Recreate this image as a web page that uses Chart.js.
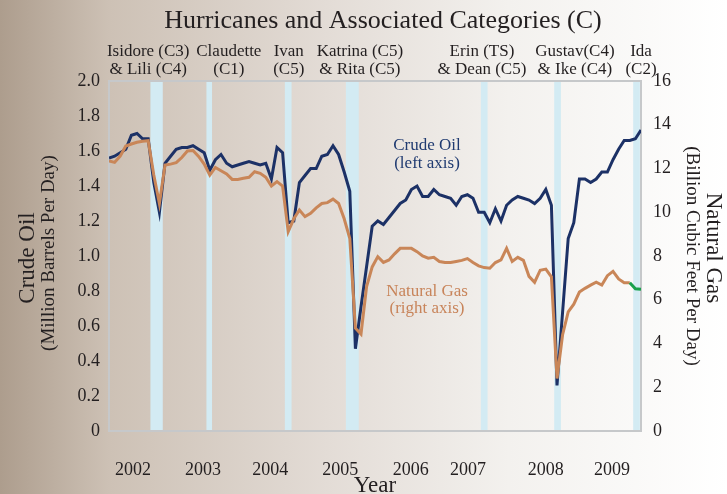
<!DOCTYPE html>
<html>
<head>
<meta charset="utf-8">
<script src="https://cdn.jsdelivr.net/npm/chart.js@4.4.0/dist/chart.umd.min.js"></script>
<style>
html, body { margin: 0; padding: 0; overflow: hidden; }
body {
  width: 727px; height: 494px;
  background: linear-gradient(to right, #ad9d8d 0%, #cdc1b5 15%, #e3dcd6 45%, #f3f1ee 70%, #ffffff 100%);
}
canvas { display: block; }
</style>
</head>
<body>
<canvas id="myChart" width="727" height="494"></canvas>
<script>
// monthly values, Jan 2002 (index 0) .. Dec 2009 (index 95)
const crudeOil = [
  1.56, 1.57, 1.59, 1.61, 1.69, 1.70, 1.67, 1.67, 1.42, 1.25, 1.53, 1.57,
  1.61, 1.62, 1.62, 1.63, 1.61, 1.59, 1.49, 1.55, 1.58, 1.53, 1.51, 1.52,
  1.53, 1.54, 1.53, 1.52, 1.53, 1.44, 1.62, 1.59, 1.19, 1.20, 1.42, 1.46,
  1.50, 1.50, 1.57, 1.58, 1.63, 1.58, 1.48, 1.37, 0.47, 0.71, 0.94, 1.17,
  1.20, 1.18, 1.22, 1.26, 1.30, 1.32, 1.38, 1.40, 1.34, 1.34, 1.38, 1.35,
  1.34, 1.33, 1.29, 1.34, 1.35, 1.33, 1.25, 1.25, 1.19, 1.27, 1.20, 1.29,
  1.32, 1.34, 1.33, 1.32, 1.30, 1.33, 1.38, 1.29, 0.26, 0.68, 1.10, 1.19,
  1.44, 1.44, 1.42, 1.44, 1.48, 1.48, 1.55, 1.61, 1.66, 1.66, 1.67, 1.72
];
const naturalGas = [
  12.35, 12.28, 12.57, 13.03, 13.12, 13.20, 13.25, 13.27, 11.70, 10.40, 12.16, 12.20,
  12.27, 12.50, 12.80, 12.82, 12.55, 12.20, 11.70, 12.05, 11.90, 11.75, 11.50, 11.50,
  11.55, 11.60, 11.85, 11.78, 11.60, 11.20, 11.40, 11.20, 9.11, 9.70, 10.10, 9.80,
  9.95, 10.20, 10.40, 10.44, 10.60, 10.40, 9.70, 8.80, 4.70, 4.43, 6.60, 7.50,
  7.97, 7.71, 7.82, 8.10, 8.35, 8.35, 8.35, 8.20, 8.00, 7.90, 7.94, 7.75,
  7.70, 7.70, 7.75, 7.80, 7.88, 7.70, 7.55, 7.47, 7.44, 7.70, 7.82, 8.35,
  7.75, 7.94, 7.80, 7.07, 6.80, 7.35, 7.40, 7.05, 2.40, 4.40, 5.45, 5.80,
  6.35, 6.52, 6.67, 6.80, 6.67, 7.10, 7.30, 6.95, 6.78, 6.78
];
// last months shown in green
const gasRecentStart = 93;
const gasRecent = [6.78, 6.50, 6.48];

const yearLabels = ['2002', '2003', '2004', '2005', '2006', '2007', '2008', '2009'];
const yearTickAt = [4.3, 16.8, 28.8, 41.3, 53.9, 64.1, 78.0, 89.8];

const hurricaneTop = ['Isidore (C3)', 'Claudette', 'Ivan', 'Katrina (C5)', 'Erin (TS)', 'Gustav(C4)', 'Ida'];
const hurricaneBottom = ['& Lili (C4)', '(C1)', '(C5)', '& Rita (C5)', '& Dean (C5)', '& Ike (C4)', '(C2)'];
const hurricaneLabelAt = [7.0, 21.4, 32.1, 44.8, 66.6, 83.2, 95.0];
const bandFrom = [7.4, 17.4, 31.4, 42.3, 66.4, 79.5, 93.6];
const bandTo = [9.6, 18.4, 32.6, 44.6, 67.6, 80.7, 94.8];

const SERIF = '"Liberation Serif", "Times New Roman", serif';
const INK = '#231f20';

const oilPts = crudeOil.map((v, i) => ({ x: i, y: v }));
const gasPts = naturalGas.map((v, i) => ({ x: i, y: v }));
const gasNewPts = gasRecent.map((v, i) => ({ x: gasRecentStart + i, y: v }));

// bands, frame and all the texts
const decor = {
  id: 'decor',
  beforeDatasetsDraw(chart) {
    const { ctx, chartArea: a, scales } = chart;
    ctx.save();
    ctx.fillStyle = '#d3ebf3';
    bandFrom.forEach((b, i) => {
      const x0 = scales.x.getPixelForValue(b);
      const x1 = scales.x.getPixelForValue(bandTo[i]);
      ctx.fillRect(x0, a.top, x1 - x0, a.bottom - a.top);
    });
    ctx.strokeStyle = '#c6c8ca';
    ctx.lineWidth = 2;
    ctx.strokeRect(a.left, a.top, a.right - a.left, a.bottom - a.top);
    ctx.restore();
  },
  afterDraw(chart) {
    const { ctx, chartArea: a, scales } = chart;
    ctx.save();
    ctx.fillStyle = INK;
    ctx.textAlign = 'center';
    ctx.textBaseline = 'alphabetic';
    ctx.font = '26px ' + SERIF;
    ctx.fillText('Hurricanes and Associated Categories (C)', 383, 28);

    ctx.font = '17px ' + SERIF;
    hurricaneTop.forEach((t, i) => {
      const x = scales.x.getPixelForValue(hurricaneLabelAt[i]);
      ctx.fillText(t, x, 56);
      ctx.fillText(hurricaneBottom[i], x, 74);
    });

    ctx.font = '23px ' + SERIF;
    ctx.fillText('Year', (a.left + a.right) / 2, 492);

    // left axis title
    ctx.save();
    ctx.translate(28, 258);
    ctx.rotate(-Math.PI / 2);
    ctx.textBaseline = 'middle';
    ctx.font = '23px ' + SERIF;
    ctx.fillText('Crude Oil', 0, 0);
    ctx.restore();
    ctx.save();
    ctx.translate(49, 253);
    ctx.rotate(-Math.PI / 2);
    ctx.textBaseline = 'middle';
    ctx.font = '19px ' + SERIF;
    ctx.fillText('(Million Barrels Per Day)', 0, 0);
    ctx.restore();

    // right axis title
    ctx.save();
    ctx.translate(713, 248);
    ctx.rotate(Math.PI / 2);
    ctx.textBaseline = 'middle';
    ctx.font = '23px ' + SERIF;
    ctx.fillText('Natural Gas', 0, 0);
    ctx.restore();
    ctx.save();
    ctx.translate(692, 256);
    ctx.rotate(Math.PI / 2);
    ctx.textBaseline = 'middle';
    ctx.font = '19px ' + SERIF;
    ctx.fillText('(Billion Cubic Feet Per Day)', 0, 0);
    ctx.restore();

    // series notes
    ctx.font = '17px ' + SERIF;
    ctx.fillStyle = '#1f3a70';
    ctx.fillText('Crude Oil', 427, 150);
    ctx.fillText('(left axis)', 427, 168);
    ctx.fillStyle = '#c8845a';
    ctx.fillText('Natural Gas', 427, 296);
    ctx.fillText('(right axis)', 427, 313);
    ctx.restore();
  }
};

const ctx = document.getElementById('myChart');
const myChart = new Chart(ctx, {
  type: 'line',
  data: {
    datasets: [
      {
        label: 'Natural Gas (recent)',
        data: gasNewPts,
        yAxisID: 'yGas',
        borderColor: '#17a04c',
        borderWidth: 3,
        order: 0
      },
      {
        label: 'Natural Gas',
        data: gasPts,
        yAxisID: 'yGas',
        borderColor: '#c98658',
        borderWidth: 3,
        order: 1
      },
      {
        label: 'Crude Oil',
        data: oilPts,
        yAxisID: 'yOil',
        borderColor: '#1c3166',
        borderWidth: 3,
        order: 2
      }
    ]
  },
  options: {
    responsive: false,
    animation: false,
    events: [],
    layout: { padding: { top: 81, left: 0, right: 0, bottom: 0 } },
    elements: {
      point: { radius: 0 },
      line: { tension: 0, fill: false }
    },
    plugins: {
      legend: { display: false },
      tooltip: { enabled: false }
    },
    scales: {
      x: {
        type: 'linear',
        min: 0,
        max: 95,
        grid: { display: false, drawTicks: false },
        border: { display: false },
        afterBuildTicks: s => { s.ticks = yearTickAt.map(v => ({ value: v })); },
        afterFit: s => { s.height = 63; },
        ticks: {
          autoSkip: false,
          maxRotation: 0,
          padding: 28,
          color: INK,
          font: { family: SERIF, size: 18 },
          callback: (v, i) => yearLabels[i]
        }
      },
      yOil: {
        position: 'left',
        min: 0,
        max: 2,
        grid: { display: false, drawTicks: false },
        border: { display: false },
        afterFit: s => { s.width = 109; },
        ticks: {
          stepSize: 0.2,
          padding: 9,
          color: INK,
          font: { family: SERIF, size: 18 },
          callback: v => (v === 0 ? '0' : v.toFixed(1))
        }
      },
      yGas: {
        position: 'right',
        min: 0,
        max: 16,
        grid: { display: false, drawTicks: false },
        border: { display: false },
        afterFit: s => { s.width = 86; },
        ticks: {
          stepSize: 2,
          padding: 12,
          color: INK,
          font: { family: SERIF, size: 18 }
        }
      }
    }
  },
  plugins: [decor]
});
</script>
</body>
</html>
